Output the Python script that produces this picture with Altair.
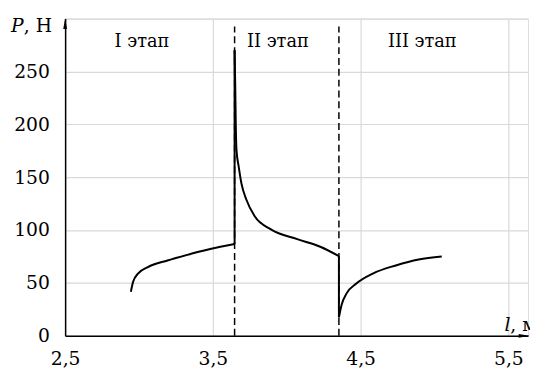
import altair as alt
import pandas as pd

# Curve data (l, м ; P, Н), split into segments
l_vals = [2.945, 2.96, 2.993, 3.06, 3.193, 3.327, 3.482, 3.647,
          3.647, 3.647,
          3.647, 3.651, 3.655, 3.66, 3.675, 3.693, 3.727, 3.782, 3.893, 4.071, 4.227, 4.353,
          4.353, 4.353,
          4.353, 4.371, 4.405, 4.471, 4.582, 4.738, 4.893, 5.049]
p_vals = [41.7, 51.0, 58.8, 65.0, 71.2, 76.5, 82.0, 86.8,
          86.8, 270.0,
          270.0, 240.0, 200.0, 175.4, 159.8, 144.3, 128.7, 113.2, 100.7, 91.4, 84.2, 75.3,
          75.3, 17.4,
          17.4, 29.2, 40.1, 49.4, 58.8, 66.5, 72.1, 74.9]
segments = ["a"] * 8 + ["b"] * 2 + ["c"] * 12 + ["d"] * 2 + ["e"] * 8

stage_bounds = [3.647, 4.353]
stage_labels = ["I этап", "II этап", "III этап"]
stage_label_x = [3.02, 3.94, 4.917]
stage_label_y = [273, 273, 273]

x_ticks = [2.5, 3.5, 4.5, 5.5]
y_ticks = [0, 50, 100, 150, 200, 250, 300]

FONT = "DejaVu Serif"
FS = 19
FS_STAGE = 18

curve_df = pd.DataFrame({"l": l_vals, "P": p_vals, "seg": segments,
                         "i": list(range(len(l_vals)))})
bounds_df = pd.DataFrame({"l": stage_bounds})
labels_df = pd.DataFrame({"l": stage_label_x, "P": stage_label_y, "t": stage_labels})
one = pd.DataFrame({"a": [0]})

xscale = alt.Scale(domain=[2.5, 5.633], nice=False, zero=False)
yscale = alt.Scale(domain=[0, 300], nice=False)

xaxis = alt.Axis(values=x_ticks, title=None,
                 labelExpr="replace(format(datum.value, '.1f'), '.', ',')",
                 labelPadding=14)
yaxis = alt.Axis(values=y_ticks, title=None,
                 labelExpr="datum.value == 300 ? '' : datum.label",
                 labelPadding=16)

curve = alt.Chart(curve_df).mark_line(color="black", strokeWidth=2,
                                      interpolate="monotone").encode(
    x=alt.X("l:Q", scale=xscale, axis=xaxis),
    y=alt.Y("P:Q", scale=yscale, axis=yaxis),
    detail="seg:N",
    order="i:Q",
)

dashes = alt.Chart(bounds_df).mark_rule(color="black", strokeWidth=1.5,
                                        strokeDash=[7, 4]).encode(
    x=alt.X("l:Q", scale=xscale, axis=xaxis),
    y=alt.value(322),
    y2=alt.value(8),
)

stage_text = alt.Chart(labels_df).mark_text(font=FONT, fontSize=FS_STAGE, color="black",
                                            align="center", baseline="alphabetic").encode(
    x=alt.X("l:Q", scale=xscale, axis=xaxis),
    y=alt.Y("P:Q", scale=yscale, axis=yaxis),
    text="t:N",
)

up_arrow = alt.Chart(one).mark_point(shape="M0,-1L-0.35,1L0.35,1Z", size=120, filled=True,
                                     color="black", opacity=1, strokeWidth=0).encode(
    x=alt.value(0), y=alt.value(5))
right_arrow = alt.Chart(one).mark_point(shape="M1,0L-1,-0.35L-1,0.35Z", size=120, filled=True,
                                        color="black", opacity=1, strokeWidth=0).encode(
    x=alt.value(466), y=alt.value(322))

p_title = alt.Chart(one).mark_text(text="P", font=FONT, fontSize=FS, fontStyle="italic",
                                   color="black", align="left", baseline="alphabetic").encode(
    x=alt.value(-55), y=alt.value(14))
p_unit = alt.Chart(one).mark_text(text=", Н", font=FONT, fontSize=FS, color="black",
                                  align="left", baseline="alphabetic").encode(
    x=alt.value(-42), y=alt.value(14))
l_title = alt.Chart(one).mark_text(text="l", font=FONT, fontSize=FS, fontStyle="italic",
                                   color="black", align="left", baseline="alphabetic").encode(
    x=alt.value(446), y=alt.value(317))
l_unit = alt.Chart(one).mark_text(text=", м", font=FONT, fontSize=FS, color="black",
                                  align="left", baseline="alphabetic").encode(
    x=alt.value(452), y=alt.value(317))

chart = alt.layer(curve, dashes, stage_text, up_arrow, right_arrow,
                  p_title, p_unit, l_title, l_unit).properties(
    width=470, height=322,
    autosize=alt.AutoSizeParams(type="none"),
    padding={"left": 58, "top": 8, "right": 2, "bottom": 34},
).configure_view(stroke=None).configure(
    background="white", font=FONT
).configure_axis(
    ticks=False, grid=True, labelFlush=False, labelOverlap=False,
    labelFont=FONT, labelFontSize=FS, labelColor="black",
    domainColor="black", domainWidth=1.5,
    gridColor="#d9d9d9", gridWidth=1.2,
)

chart.save("out.html", embed_options={"renderer": "svg", "actions": False})
